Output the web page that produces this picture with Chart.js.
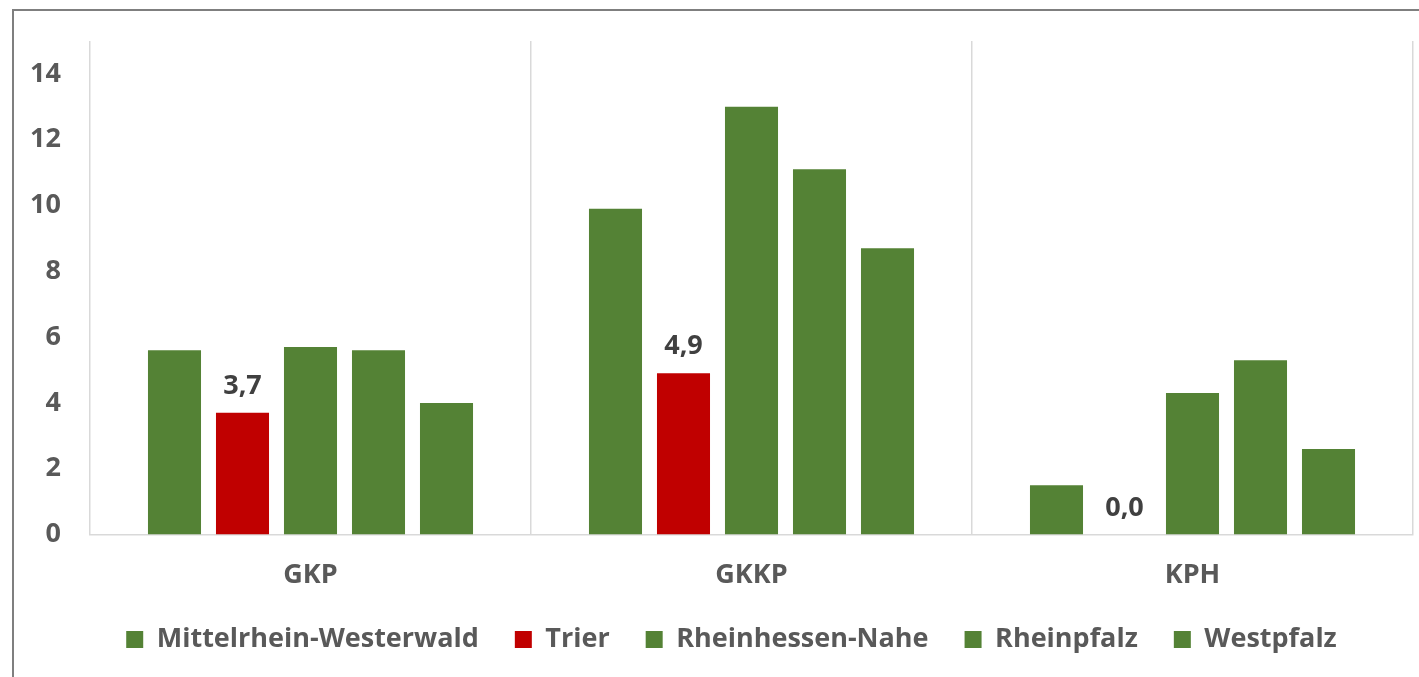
<!DOCTYPE html>
<html>
<head>
<meta charset="utf-8">
<script src="https://cdn.jsdelivr.net/npm/chart.js@4"></script>
<style>
  html, body { margin: 0; padding: 0; background: #fff; overflow: hidden; }
  #wrap { position: relative; width: 1419px; height: 677px; }
  #frame { position: absolute; left: 12px; top: 9px; width: 1500px; height: 800px; border: 2px solid #7f7f7f; }
  #chart { position: absolute; left: 0; top: 0; }
</style>
</head>
<body>
<div id="wrap">
  <div id="frame"></div>
  <canvas id="chart" width="1419" height="677"></canvas>
</div>
<script>
// Kategorien und Werte je Region
var categories = ['GKP', 'GKKP', 'KPH'];
var regions = ['Mittelrhein-Westerwald', 'Trier', 'Rheinhessen-Nahe', 'Rheinpfalz', 'Westpfalz'];
var mittelrheinWesterwald = [5.6, 9.9, 1.5];
var trier = [3.7, 4.9, 0.0];
var rheinhessenNahe = [5.7, 13.0, 4.3];
var rheinpfalz = [5.6, 11.1, 5.3];
var westpfalz = [4.0, 8.7, 2.6];
var yTicks = [0, 2, 4, 6, 8, 10, 12, 14];

var green = '#548235';
var red = '#c00000';
var textColor = '#595959';
var fontFamily = "'Open Sans', 'DejaVu Sans', sans-serif";
var fontSize = 27;

var seriesValues = [mittelrheinWesterwald, trier, rheinhessenNahe, rheinpfalz, westpfalz];
var seriesColors = [green, red, green, green, green];

var datasets = regions.map(function (name, i) {
  return {
    label: name,
    data: seriesValues[i],
    backgroundColor: seriesColors[i],
    borderWidth: 0,
    barPercentage: 0.78,
    categoryPercentage: 0.771,
    showValues: i === 1
  };
});

// Werte nur für Trier über den Balken schreiben
var valueLabels = {
  id: 'valueLabels',
  afterDatasetsDraw: function (chart) {
    var ctx = chart.ctx;
    ctx.save();
    ctx.font = 'bold ' + fontSize + 'px ' + fontFamily;
    ctx.fillStyle = '#404040';
    ctx.textAlign = 'center';
    ctx.textBaseline = 'alphabetic';
    chart.data.datasets.forEach(function (ds, i) {
      if (!ds.showValues) return;
      chart.getDatasetMeta(i).data.forEach(function (bar, j) {
        var txt = ds.data[j].toFixed(1).replace('.', ',');
        ctx.fillText(txt, bar.x, bar.y - 19);
      });
    });
    ctx.restore();
  }
};

// Legendenabstand: horizontal breit, vertikal knapp
var legendShift = 27;
var legendPadding = 36;
var legendGap = {
  id: 'legendGap',
  beforeLayout: function (chart) {
    var legend = chart.legend;
    if (legend && !legend._gapPatched) {
      var fit = legend.fit;
      legend.fit = function () {
        fit.apply(this, arguments);
        this.height -= legendShift;
      };
      legend._gapPatched = true;
    }
  },
  afterLayout: function (chart) {
    var legend = chart.legend;
    if (legend) {
      legend.top -= legendShift;
      // nachlaufenden Abstand des letzten Eintrags ausgleichen
      legend.left += legendPadding / 2;
      legend.right += legendPadding / 2;
    }
  }
};

var ctx = document.getElementById('chart').getContext('2d');
var chart = new Chart(ctx, {
  type: 'bar',
  data: {
    labels: categories,
    datasets: datasets
  },
  plugins: [valueLabels, legendGap],
  options: {
    responsive: false,
    animation: false,
    layout: {
      padding: { left: 14, right: 6, top: 41, bottom: 14 }
    },
    scales: {
      x: {
        grid: {
          display: true,
          offset: true,
          color: '#d9d9d9',
          lineWidth: 1.5,
          drawTicks: false
        },
        border: { display: true, color: '#d9d9d9', width: 1.5 },
        ticks: {
          color: textColor,
          padding: 25,
          font: { family: fontFamily, size: fontSize, weight: 'bold' }
        }
      },
      y: {
        min: 0,
        max: 15,
        grid: { display: false, drawTicks: false },
        border: { display: false },
        afterBuildTicks: function (scale) {
          scale.ticks = yTicks.map(function (v) { return { value: v }; });
        },
        afterFit: function (scale) {
          scale.width = 76;
          scale.paddingTop = 0;
          scale.paddingBottom = 0;
        },
        ticks: {
          color: textColor,
          padding: 29,
          font: { family: fontFamily, size: fontSize, weight: 'bold' }
        }
      }
    },
    plugins: {
      legend: {
        position: 'bottom',
        labels: {
          color: textColor,
          boxWidth: 17,
          boxHeight: 17,
          padding: legendPadding,
          font: { family: fontFamily, size: fontSize, weight: 'bold' }
        }
      },
      tooltip: { enabled: false }
    }
  }
});
</script>
</body>
</html>
